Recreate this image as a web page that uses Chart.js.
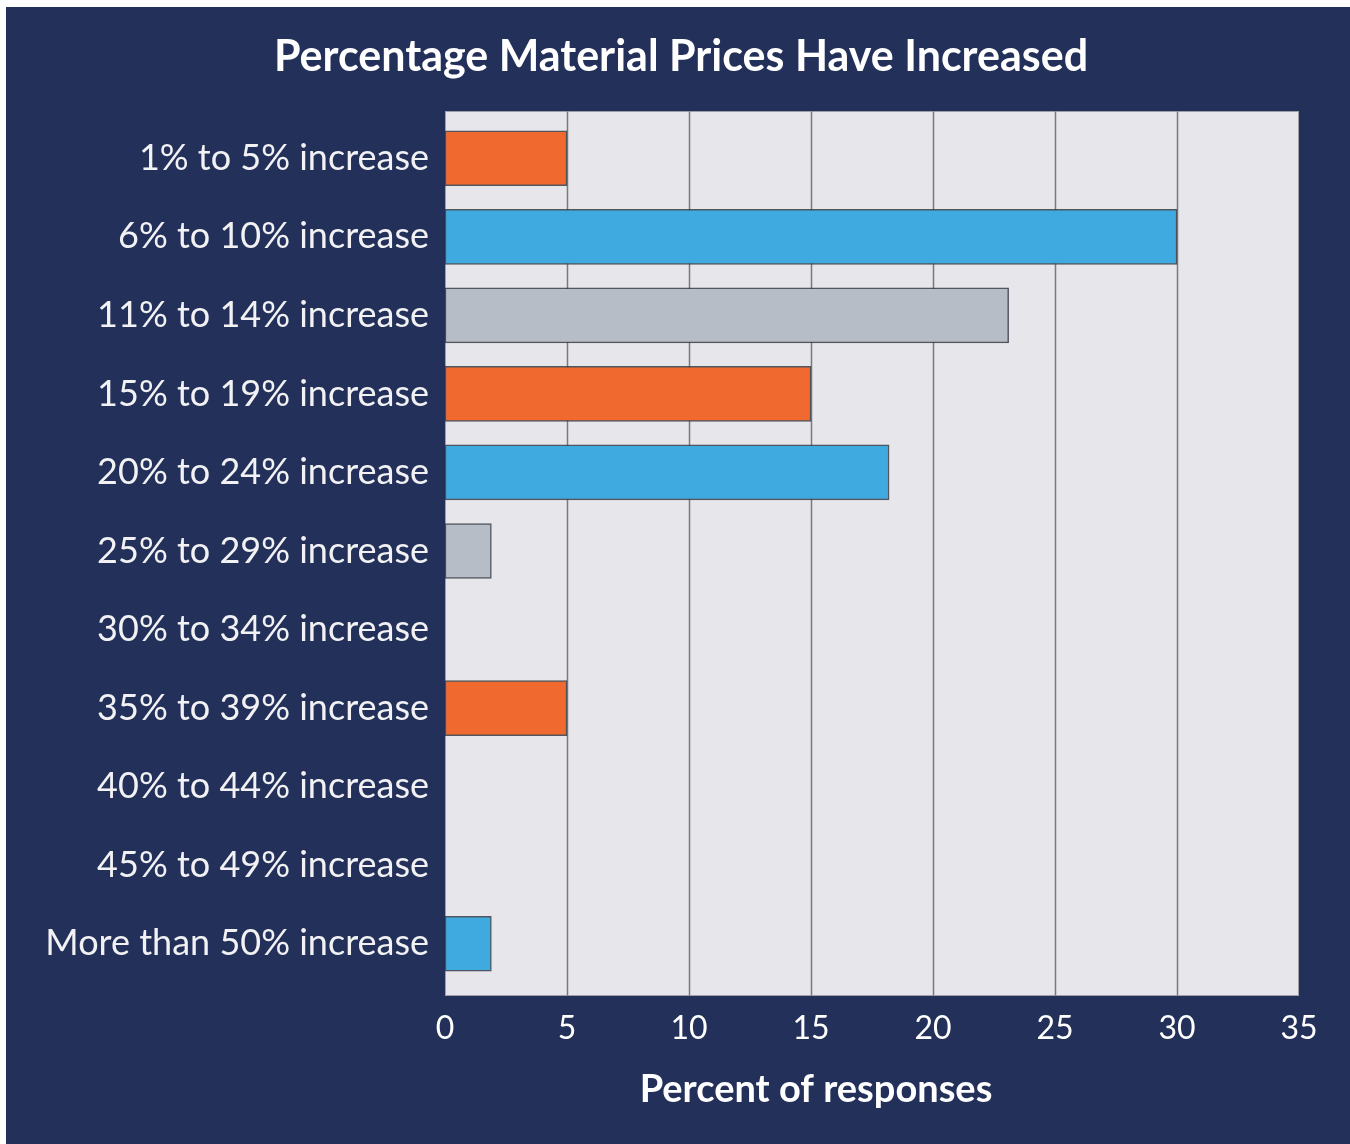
<!DOCTYPE html>
<html>
<head>
<meta charset="utf-8">
<script src="https://cdn.jsdelivr.net/npm/chart.js@4.4.0/dist/chart.umd.min.js"></script>
<style>
  html, body { margin: 0; padding: 0; background: #ffffff; }
  #wrap { position: absolute; left: 6px; top: 7px; width: 1344px; height: 1137px; background: #23305a; }
  canvas { display: block; }
</style>
</head>
<body>
<div id="wrap"><canvas id="c" width="1344" height="1137"></canvas></div>
<script>
const categories = [
  '1% to 5% increase',
  '6% to 10% increase',
  '11% to 14% increase',
  '15% to 19% increase',
  '20% to 24% increase',
  '25% to 29% increase',
  '30% to 34% increase',
  '35% to 39% increase',
  '40% to 44% increase',
  '45% to 49% increase',
  'More than 50% increase'
];
const percentValues = [5, 30, 23.1, 15, 18.2, 1.9, 0, 5, 0, 0, 1.9];
const barColors = ['#f0692f', '#3faae0', '#b7bdc6', '#f0692f', '#3faae0', '#b7bdc6',
                   '#f0692f', '#f0692f', '#3faae0', '#b7bdc6', '#3faae0'];
const xTicks = [0, 5, 10, 15, 20, 25, 30, 35];
const chartTitle = 'Percentage Material Prices Have Increased';
const xAxisTitle = 'Percent of responses';

const FONT = 'Lato, "Open Sans", sans-serif';

// Light panel behind the bars, with vertical grid lines, slightly taller than the category band;
// plus the chart heading and the x-axis caption
const panelPlugin = {
  id: 'panel',
  beforeDatasetsDraw(chart) {
    const { ctx, chartArea, scales } = chart;
    const top = chartArea.top - 8, bottom = chartArea.bottom + 13;
    ctx.save();
    ctx.fillStyle = '#e6e6eb';
    ctx.fillRect(chartArea.left, top, chartArea.right - chartArea.left, bottom - top);
    ctx.strokeStyle = '#7a7a7e';
    ctx.lineWidth = 1.5;
    xTicks.forEach(v => {
      if (v === xTicks[0] || v === xTicks[xTicks.length - 1]) return;
      const x = Math.round(scales.x.getPixelForValue(v)) + 0.5;
      ctx.beginPath();
      ctx.moveTo(x, top);
      ctx.lineTo(x, bottom);
      ctx.stroke();
    });
    ctx.strokeStyle = 'rgba(140,140,150,0.8)';
    ctx.lineWidth = 1;
    ctx.strokeRect(chartArea.left + 0.5, top + 0.5, chartArea.right - chartArea.left - 1, bottom - top - 1);
    ctx.restore();
  },
  afterDraw(chart) {
    const { ctx, chartArea, width } = chart;
    ctx.save();
    ctx.fillStyle = '#ffffff';
    ctx.textAlign = 'center';
    ctx.textBaseline = 'middle';
    ctx.font = 'bold 43px ' + FONT;
    ctx.fillText(chartTitle, width / 2 + 3, 50);
    ctx.font = 'bold 38px ' + FONT;
    ctx.fillText(xAxisTitle, (chartArea.left + chartArea.right) / 2 - 56, chartArea.bottom + 107);
    ctx.restore();
  }
};

new Chart(document.getElementById('c'), {
  type: 'bar',
  data: {
    labels: categories,
    datasets: [{
      data: percentValues,
      backgroundColor: barColors,
      borderColor: 'rgba(55,60,70,0.85)',
      borderWidth: 1.5,
      borderSkipped: false,
      barThickness: 55
    }]
  },
  options: {
    indexAxis: 'y',
    responsive: false,
    animation: false,
    layout: { padding: { left: 0, right: 51, top: 112, bottom: 0 } },
    plugins: {
      legend: { display: false },
      tooltip: { enabled: false },
      title: { display: false }
    },
    scales: {
      x: {
        type: 'linear',
        min: 0,
        max: 35,
        grid: { display: false },
        border: { display: false },
        afterBuildTicks(scale) { scale.ticks = xTicks.map(v => ({ value: v })); },
        afterFit(scale) { scale.height = 161; },
        ticks: {
          color: '#ffffff',
          font: { family: FONT, size: 32 },
          padding: 18
        }
      },
      y: {
        grid: { display: false },
        border: { display: false },
        afterFit(scale) { scale.width = 439; },
        ticks: {
          color: '#f2f2f4',
          font: { family: FONT, size: 36 },
          padding: 8
        }
      }
    }
  },
  plugins: [panelPlugin]
});
</script>
</body>
</html>
